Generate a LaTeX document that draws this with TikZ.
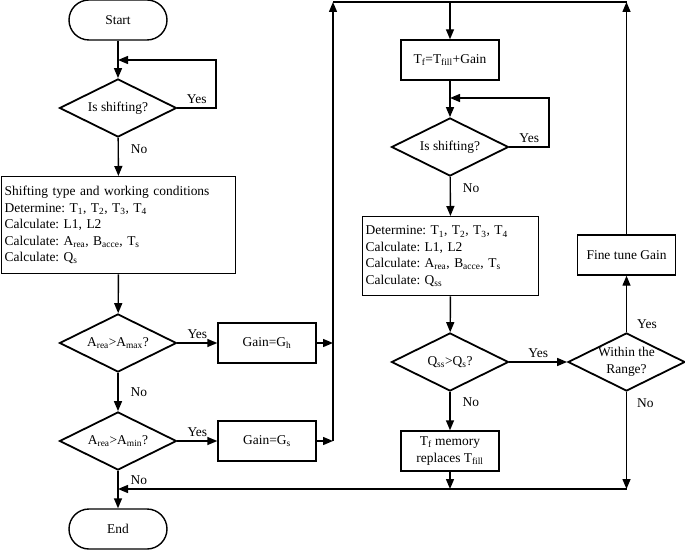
\documentclass[tikz,border=0pt]{standalone}
\usepackage{fontspec}
\setmainfont{Liberation Serif}
\usetikzlibrary{shapes.geometric,arrows.meta}
\begin{document}
\begin{tikzpicture}[x=1bp,y=-1bp,
    font=\fontsize{13.5}{16.5}\selectfont\frenchspacing,
    >={Triangle[length=10bp,width=8bp]},
    line width=1.4bp,
    term/.style={draw,rounded corners=20bp,minimum width=98bp,minimum height=40bp},
    procbox/.style={draw,align=center,inner sep=2bp,minimum width=98bp,minimum height=40bp},
    listbox/.style={draw,align=left,inner sep=3bp,anchor=north west},
    decide/.style={draw,diamond,aspect=2,align=center,inner sep=0pt,
      minimum width=117bp,minimum height=58bp,line width=1.8bp},
    lab/.style={inner sep=1bp}]
    \useasboundingbox (0,0) rectangle (685,550);
    % left column
    \node[term] (start) at (118,20) {Start};
    \node[decide] (shift1) at (118,108) {Is shifting?};
    \node[listbox,text width=228bp,minimum height=97bp] (cond) at (1,176)
      {Shifting type and working conditions\\
       Determine: T\textsubscript{1}, T\textsubscript{2}, T\textsubscript{3}, T\textsubscript{4}\\
       Calculate: L1, L2\\
       Calculate: A\textsubscript{rea}, B\textsubscript{acce}, T\textsubscript{s}\\
       Calculate: Q\textsubscript{s}};
    \node[decide] (amax) at (118,343) {A\textsubscript{rea}>A\textsubscript{max}?};
    \node[decide] (amin) at (118,441) {A\textsubscript{rea}>A\textsubscript{min}?};
    \node[procbox] (gainh) at (267,343) {Gain=G\textsubscript{h}};
    \node[procbox] (gains) at (267,441) {Gain=G\textsubscript{s}};
    \node[term] (finish) at (118,529) {End};
    % right column
    \node[procbox] (tf) at (450,60) {T\textsubscript{f}=T\textsubscript{fill}+Gain};
    \node[decide] (shift2) at (450,147) {Is shifting?};
    \node[listbox,text width=170bp,minimum height=79bp] (calc) at (362,216)
      {Determine: T\textsubscript{1}, T\textsubscript{2}, T\textsubscript{3}, T\textsubscript{4}\\
       Calculate: L1, L2\\
       Calculate: A\textsubscript{rea}, B\textsubscript{acce}, T\textsubscript{s}\\
       Calculate: Q\textsubscript{ss}};
    \node[decide] (qss) at (450,362) {Q\textsubscript{ss}>Q\textsubscript{s}?};
    \node[decide] (range) at (626.5,362) {Within the\\Range?};
    \node[procbox] (tune) at (626.5,255) {Fine tune Gain};
    \node[procbox] (mem) at (450,451) {T\textsubscript{f} memory\\replaces T\textsubscript{fill}};
    % bends
    \coordinate (j1) at (118,60); \coordinate (l1) at (216,60);
    \coordinate (j2) at (450,98); \coordinate (l2) at (549,98);
    \coordinate (bh) at (333,343); \coordinate (bs) at (333,441);
    \coordinate (c1) at (333,2); \coordinate (c2) at (626.5,2); \coordinate (tc) at (450,2);
    \coordinate (r1) at (626.5,489); \coordinate (r2) at (450,489); \coordinate (j3) at (118,489);
    % connectors
    \draw[->] (start) -- (shift1);
    \draw[->] (shift1.east) -| node[lab,above=3bp,pos=0.25]{Yes} (l1) -- (j1);
    \draw[->] (shift1) -- node[lab,right=11bp,pos=0.3]{No} (cond);
    \draw[->] (cond) -- (amax);
    \draw[->] (amax) -- node[lab,above=3bp]{Yes} (gainh);
    \draw[->] (amax) -- node[lab,right=11bp]{No} (amin);
    \draw[->] (amin) -- node[lab,above=3bp]{Yes} (gains);
    \draw[->] (amin) -- node[lab,right=11bp,pos=0.25]{No} (finish);
    \draw[->] (gainh) -- (bh);
    \draw[->] (gains) -- (bs);
    \draw[->] (bs) -- (c1);
    \draw (c1) -- (c2);
    \draw[->] (tc) -- (tf);
    \draw[->] (tf) -- (shift2);
    \draw[->] (shift2.east) -| node[lab,above=3bp,pos=0.25]{Yes} (l2) -- (j2);
    \draw[->] (shift2) -- node[lab,right=11bp,pos=0.3]{No} (calc);
    \draw[->] (calc) -- (qss);
    \draw[->] (qss) -- node[lab,above=3bp]{Yes} (range);
    \draw[->] (qss) -- node[lab,right=11bp,pos=0.28]{No} (mem);
    \draw[->] (range) -- node[lab,right=9bp,pos=0.14]{Yes} (tune);
    \draw[->] (tune) -- (c2);
    \draw[->] (range) -- node[lab,right=9bp,pos=0.12]{No} (r1);
    \draw[->] (mem) -- (r2);
    \draw[->] (r1) -- (j3);
\end{tikzpicture}
\end{document}
